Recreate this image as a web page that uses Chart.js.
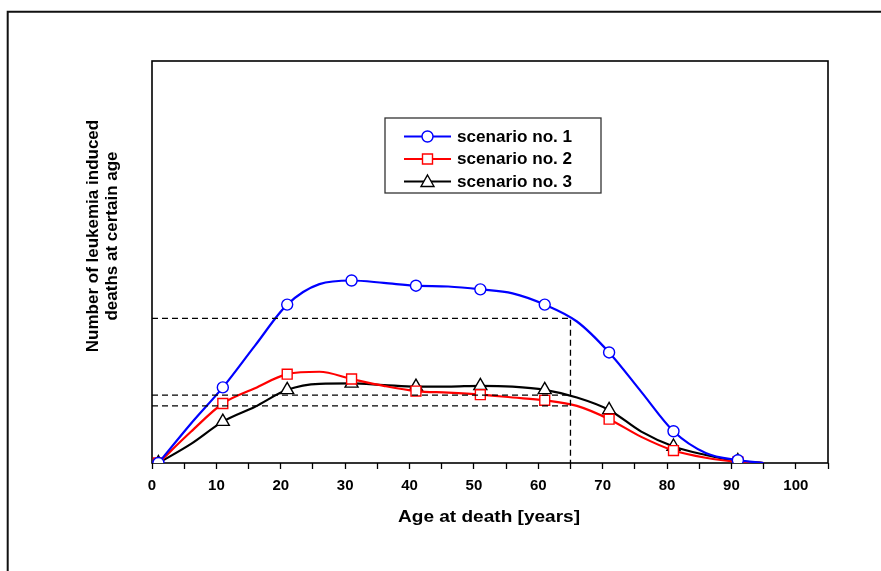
<!DOCTYPE html>
<html>
<head>
<meta charset="utf-8">
<script src="https://cdn.jsdelivr.net/npm/chart.js@4"></script>
<style>
  html, body { margin: 0; padding: 0; background: #fff; }
  #wrap { width: 881px; height: 571px; }
</style>
</head>
<body>
<div id="wrap"><canvas id="myChart" width="881" height="571"></canvas></div>
<script>
const ctx = document.getElementById("myChart");

// age at death (years), every 5 years; markers sit on 1, 11, 21 ...
const ages = [1, 6, 11, 16, 21, 26, 31, 36, 41, 46, 51, 56, 61, 66, 71, 76, 81, 86, 91, 95];
const scenario1 = [0, 9.7, 18.8, 29.2, 39.4, 44.5, 45.4, 44.8, 44.1, 43.9, 43.2, 42.2, 39.4, 35.2, 27.5, 17.7, 7.9, 2.5, 0.7, 0];
const scenario2 = [0, 7.7, 14.8, 18.6, 22.1, 22.7, 20.9, 19.2, 17.9, 17.5, 17.0, 16.3, 15.6, 14.2, 10.9, 6.5, 3.1, 1.3, 0.3, 0];
const scenario3 = [0, 4.7, 10.3, 14.0, 18.2, 19.7, 19.8, 19.4, 19.0, 19.0, 19.2, 19.0, 18.2, 16.3, 13.2, 7.8, 4.1, 2.0, 0.5, 0];
const seriesLabels = ["scenario no. 1", "scenario no. 2", "scenario no. 3"];

// dashed guide lines at age 65
const guideAge = 65;
const guideLevels = [36.0, 16.9, 14.2];

const FONT = "'Liberation Sans', Arial, sans-serif";

function pts(values) {
  return values.map((v, i) => ({ x: ages[i], y: v }));
}

function markerRadius(size) {
  return (c) => (c.raw && c.raw.x % 10 === 1 ? size : 0);
}

function series(label, values, color, style, size) {
  return {
    label: label,
    data: pts(values),
    borderColor: color,
    borderWidth: 2.2,
    backgroundColor: "#ffffff",
    pointBackgroundColor: "#ffffff",
    pointBorderColor: color,
    pointBorderWidth: 1.4,
    pointStyle: style,
    pointRadius: markerRadius(size),
    pointHoverRadius: markerRadius(size),
    cubicInterpolationMode: "monotone",
    fill: false,
  };
}

function guide(data) {
  return {
    label: "",
    data: data,
    borderColor: "#000000",
    borderWidth: 1.3,
    borderDash: [6, 4],
    pointRadius: 0,
    tension: 0,
    fill: false,
    isGuide: true,
  };
}

const datasets = [
  guide([{ x: 0, y: guideLevels[0] }, { x: guideAge, y: guideLevels[0] }, { x: guideAge, y: 0 }]),
  guide([{ x: 0, y: guideLevels[1] }, { x: guideAge, y: guideLevels[1] }]),
  guide([{ x: 0, y: guideLevels[2] }, { x: guideAge, y: guideLevels[2] }]),
  series(seriesLabels[0], scenario1, "#0000ff", "circle", 5.5),
  series(seriesLabels[1], scenario2, "#ff0000", "rect", 7),
  series(seriesLabels[2], scenario3, "#000000", "triangle", 7.5),
];

function drawMarker(c, style, x, y, color) {
  c.save();
  c.fillStyle = "#fff";
  c.strokeStyle = color;
  c.lineWidth = 1.4;
  c.beginPath();
  if (style === "circle") {
    c.arc(x, y, 5.5, 0, Math.PI * 2);
  } else if (style === "rect") {
    c.rect(x - 5, y - 5, 10, 10);
  } else {
    c.moveTo(x, y - 6.5);
    c.lineTo(x + 6.5, y + 5);
    c.lineTo(x - 6.5, y + 5);
    c.closePath();
  }
  c.fill();
  c.stroke();
  c.restore();
}

const decorations = {
  id: "decorations",
  beforeDatasetsDraw(chart) {
    const c = chart.ctx;
    const a = chart.chartArea;
    c.save();
    c.strokeStyle = "#000";
    c.lineWidth = 1.6;
    c.strokeRect(a.left, a.top, a.right - a.left, a.bottom - a.top);
    c.restore();
  },
  afterDraw(chart) {
    const c = chart.ctx;
    c.save();
    // outer frame
    c.strokeStyle = "#111";
    c.lineWidth = 2;
    c.beginPath();
    c.moveTo(7.7, 600);
    c.lineTo(7.7, 11.7);
    c.lineTo(900, 11.7);
    c.stroke();

    // axis titles
    c.fillStyle = "#000";
    c.font = "bold 16px " + FONT;
    c.textAlign = "center";
    c.textBaseline = "alphabetic";
    c.save();
    c.translate(489, 522);
    c.scale(1.19, 1);
    c.fillText("Age at death [years]", 0, 0);
    c.restore();

    c.font = "bold 17px " + FONT;
    c.save();
    c.translate(98, 236);
    c.rotate(-Math.PI / 2);
    c.fillText("Number of leukemia induced", 0, 0);
    c.fillText("deaths at certain age", 0, 18.5);
    c.restore();

    // legend
    c.strokeStyle = "#333";
    c.lineWidth = 1.3;
    c.strokeRect(385, 118, 216, 75);
    const rows = [136.5, 159, 181.5];
    const sets = chart.data.datasets.filter((d) => !d.isGuide);
    sets.forEach((d, i) => {
      const y = rows[i];
      c.strokeStyle = d.borderColor;
      c.lineWidth = 2.2;
      c.beginPath();
      c.moveTo(404, y);
      c.lineTo(451, y);
      c.stroke();
      drawMarker(c, d.pointStyle, 427.5, y, d.borderColor);
      c.fillStyle = "#000";
      c.font = "bold 16px " + FONT;
      c.textAlign = "left";
      c.textBaseline = "middle";
      c.save();
      c.translate(457, y + 1);
      c.scale(1.07, 1);
      c.fillText(d.label, 0, 0);
      c.restore();
    });
    c.restore();
  },
};

const myChart = new Chart(ctx, {
  type: "line",
  data: { datasets: datasets },
  plugins: [decorations],
  options: {
    responsive: false,
    animation: false,
    events: [],
    layout: {
      padding: { left: 152, top: 61, right: 53, bottom: 0 },
    },
    plugins: {
      legend: { display: false },
      tooltip: { enabled: false },
      title: { display: false },
    },
    scales: {
      x: {
        type: "linear",
        min: 0,
        max: 105,
        afterFit: (scale) => {
          scale.height = 108;
        },
        border: { display: false },
        grid: {
          drawOnChartArea: false,
          drawTicks: true,
          tickLength: 6,
          tickWidth: 1.3,
          tickColor: "#000",
        },
        ticks: {
          stepSize: 5,
          autoSkip: false,
          maxRotation: 0,
          padding: 8,
          color: "#000",
          font: { family: FONT, size: 15, weight: "bold" },
          callback: function (val) {
            return val % 10 === 0 && val <= 100 ? val : "";
          },
        },
      },
      y: {
        display: false,
        min: 0,
        max: 100,
      },
    },
  },
});
</script>
</body>
</html>
